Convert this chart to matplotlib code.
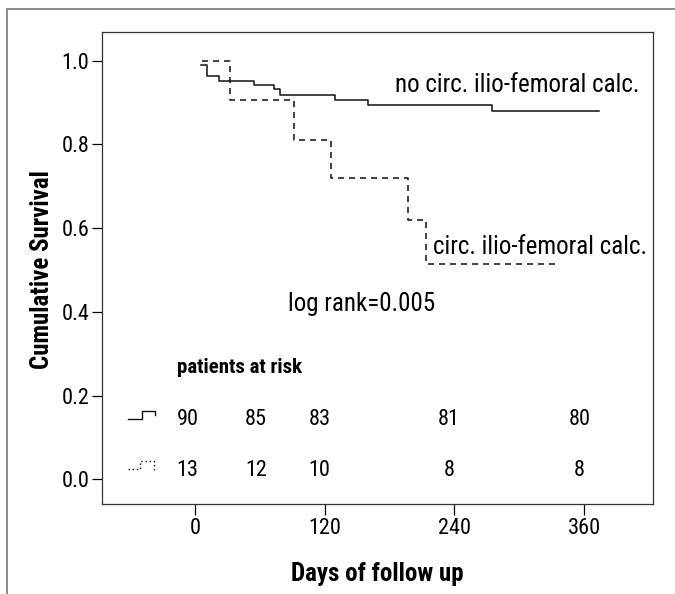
"""
Kaplan-Meier style survival chart: circumferential ilio-femoral calcification vs none.
"""
import matplotlib
matplotlib.use("Agg")
import matplotlib.pyplot as plt
from matplotlib.lines import Line2D

plt.rcParams["font.family"] = ["Roboto Condensed", "Archivo Narrow", "DejaVu Sans"]

# ---------- Data ----------
no_calc_days = [5, 11, 22, 54, 73, 78, 129, 160, 275, 374]
no_calc_surv = [0.989, 0.964, 0.952, 0.941, 0.932, 0.919, 0.906, 0.894, 0.879, 0.879]

calc_days = [6, 32, 91, 126, 197, 214, 333]
calc_surv = [1.0, 0.907, 0.810, 0.719, 0.620, 0.514, 0.514]

x_ticks = [0, 120, 240, 360]
y_ticks = [0.0, 0.2, 0.4, 0.6, 0.8, 1.0]

risk_no_calc = [90, 85, 83, 81, 80]
risk_calc = [13, 12, 10, 8, 8]
risk_label_days = [-7, 56, 115, 235, 356]   # where the at-risk numbers sit

# ---------- Figure ----------
fig = plt.figure(figsize=(6.75, 5.94), dpi=100)
ax = fig.add_axes([0.1511, 0.1515, 0.8163, 0.7951])

ax.step(no_calc_days, no_calc_surv, where="post", color="#111111", lw=1.1)
ax.step(calc_days, calc_surv, where="post", color="#111111", lw=1.1,
        linestyle=(0, (4, 3.2)))

ax.set_xlim(-86.4, 423.9)
ax.set_ylim(-0.059, 1.069)
ax.set_xticks(x_ticks)
ax.set_yticks(y_ticks)
ax.set_yticklabels([f"{v:.1f}" for v in y_ticks])
ax.tick_params(axis="y", direction="out", length=7.2, width=0.9, pad=2, labelsize=16)
ax.tick_params(axis="x", direction="out", length=8, width=0.9, pad=2, labelsize=16)
for s in ax.spines.values():
    s.set_color("#333333")
    s.set_linewidth(0.9)

# curve labels
ax.text(298, 0.926, "no circ. ilio-femoral calc.", ha="center", va="baseline", fontsize=18)
ax.text(319, 0.556, "circ. ilio-femoral calc.", ha="center", va="center", fontsize=18)
ax.text(154, 0.418, "log rank=0.005", ha="center", va="center", fontsize=18)

# patients at risk table
ax.text(-16.5, 0.268, "patients at risk", ha="left", va="center", fontsize=15, fontweight="bold")
for d, n in zip(risk_label_days, risk_no_calc):
    ax.text(d, 0.142, str(n), ha="center", va="center", fontsize=16)
for d, n in zip(risk_label_days, risk_calc):
    ax.text(d, 0.020, str(n), ha="center", va="center", fontsize=16)

# little line-style keys in front of the rows (axes fraction)
ax.plot([0.0472, 0.0720, 0.0720, 0.0962, 0.0962], [0.1793, 0.1793, 0.1975, 0.1975, 0.1884],
        transform=ax.transAxes, color="#111111", lw=1.0, clip_on=False)
ax.plot([0.0472, 0.0690, 0.0690, 0.0945, 0.0945], [0.0735, 0.0735, 0.0910, 0.0910, 0.0720],
        transform=ax.transAxes, color="#111111", lw=1.0, linestyle=(0, (1, 2)), clip_on=False)

# axis titles
fig.text(377.5 / 675, 1 - 574 / 594, "Days of follow up", ha="center", va="center",
         fontsize=18, fontweight="bold")
fig.text(42 / 675, 1 - 270 / 594, "Cumulative Survival", ha="center", va="center",
         rotation=90, fontsize=18, fontweight="bold")

# outer frame (cropped on right and bottom in the original)
fig.add_artist(Line2D([7 / 675, 7 / 675, 1.01], [-0.01, 1 - 9 / 594, 1 - 9 / 594],
                      transform=fig.transFigure, color="#777777", lw=1.2))

fig.savefig("out.png", dpi=100)
